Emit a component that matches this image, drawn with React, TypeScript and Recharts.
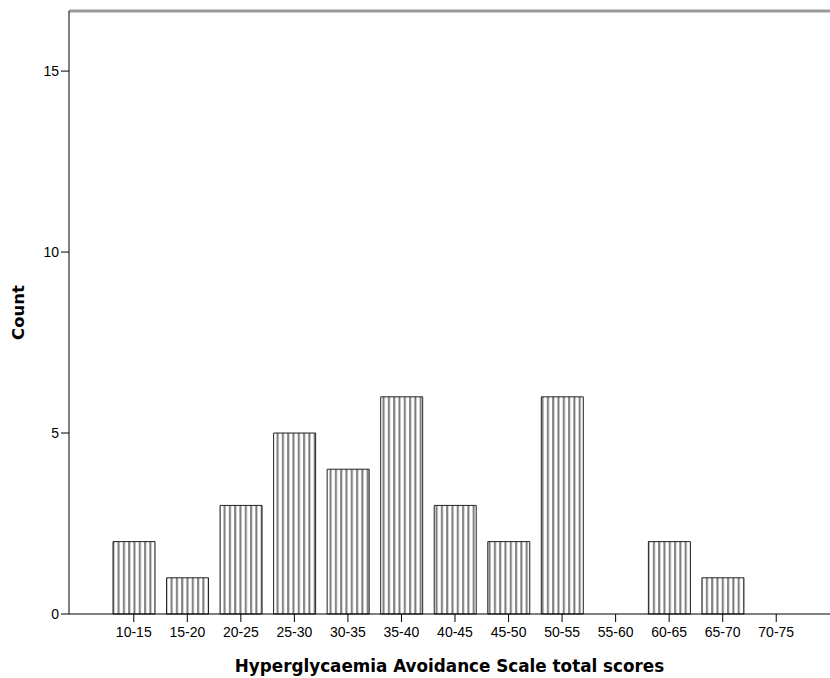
import { BarChart, Bar, XAxis, YAxis, ReferenceLine } from "recharts";

// Score bins of the Hyperglycaemia Avoidance Scale and how many people fall in each.
const bins = [
  "10-15", "15-20", "20-25", "25-30", "30-35", "35-40", "40-45",
  "45-50", "50-55", "55-60", "60-65", "65-70", "70-75",
];
const counts = [2, 1, 3, 5, 4, 6, 3, 2, 6, 0, 2, 1, 0];
const yTicks = [0, 5, 10, 15];
const Y_MAX = 16.66;

const rows = bins.map((bin, i) => ({ bin, count: counts[i] }));

const TICK_FONT = "'Liberation Sans', Arial, sans-serif";
const TITLE_FONT = "'DejaVu Sans', Verdana, sans-serif";

// rotated axis title, centred on the plot height
function CountLabel({ viewBox }: any) {
  const cx = viewBox.x + 18;
  const cy = viewBox.y + viewBox.height / 2;
  return (
    <text
      x={cx}
      y={cy}
      transform={`rotate(-90, ${cx}, ${cy})`}
      textAnchor="middle"
      dominantBaseline="central"
      fill="#000"
      fontSize={16.5}
      fontWeight="bold"
      fontFamily={TITLE_FONT}
    >
      Count
    </text>
  );
}

export default function App() {
  return (
    <div style={{ position: "absolute", left: 0, top: 0, background: "#fff" }}>
      <BarChart
        width={830}
        height={678}
        data={rows}
        margin={{ top: 11, right: 0, bottom: 0, left: 0 }}
      >
        <defs>
          <pattern
            id="stripes"
            width={5.3}
            height={8}
            patternUnits="userSpaceOnUse"
          >
            <rect width={5.3} height={8} fill="#fff" />
            <rect x={1} width={2} height={8} fill="#7a7a7a" />
          </pattern>
        </defs>
        <XAxis
          dataKey="bin"
          height={64}
          padding={{ left: 38, right: 27 }}
          tickSize={8}
          tickMargin={5}
          axisLine={{ stroke: "#000" }}
          tickLine={{ stroke: "#000" }}
          tick={{ fill: "#000", fontSize: 14, fontFamily: TICK_FONT }}
          interval={0}
          label={{
            value: "Hyperglycaemia Avoidance Scale total scores",
            position: "insideBottom",
            offset: 6,
            fill: "#000",
            fontSize: 16.8,
            fontWeight: "bold",
            fontFamily: TITLE_FONT,
          }}
        />
        <YAxis
          width={69}
          domain={[0, Y_MAX]}
          ticks={yTicks}
          tickSize={8}
          tickMargin={2}
          axisLine={{ stroke: "#000" }}
          tickLine={{ stroke: "#000" }}
          tick={{ fill: "#000", fontSize: 14, fontFamily: TICK_FONT }}
          label={<CountLabel />}
        />
        <ReferenceLine y={Y_MAX} stroke="#9a9a9a" strokeWidth={3} />
        <Bar
          dataKey="count"
          barSize={42}
          fill="url(#stripes)"
          stroke="#222"
          strokeWidth={1}
          isAnimationActive={false}
        />
      </BarChart>
    </div>
  );
}
